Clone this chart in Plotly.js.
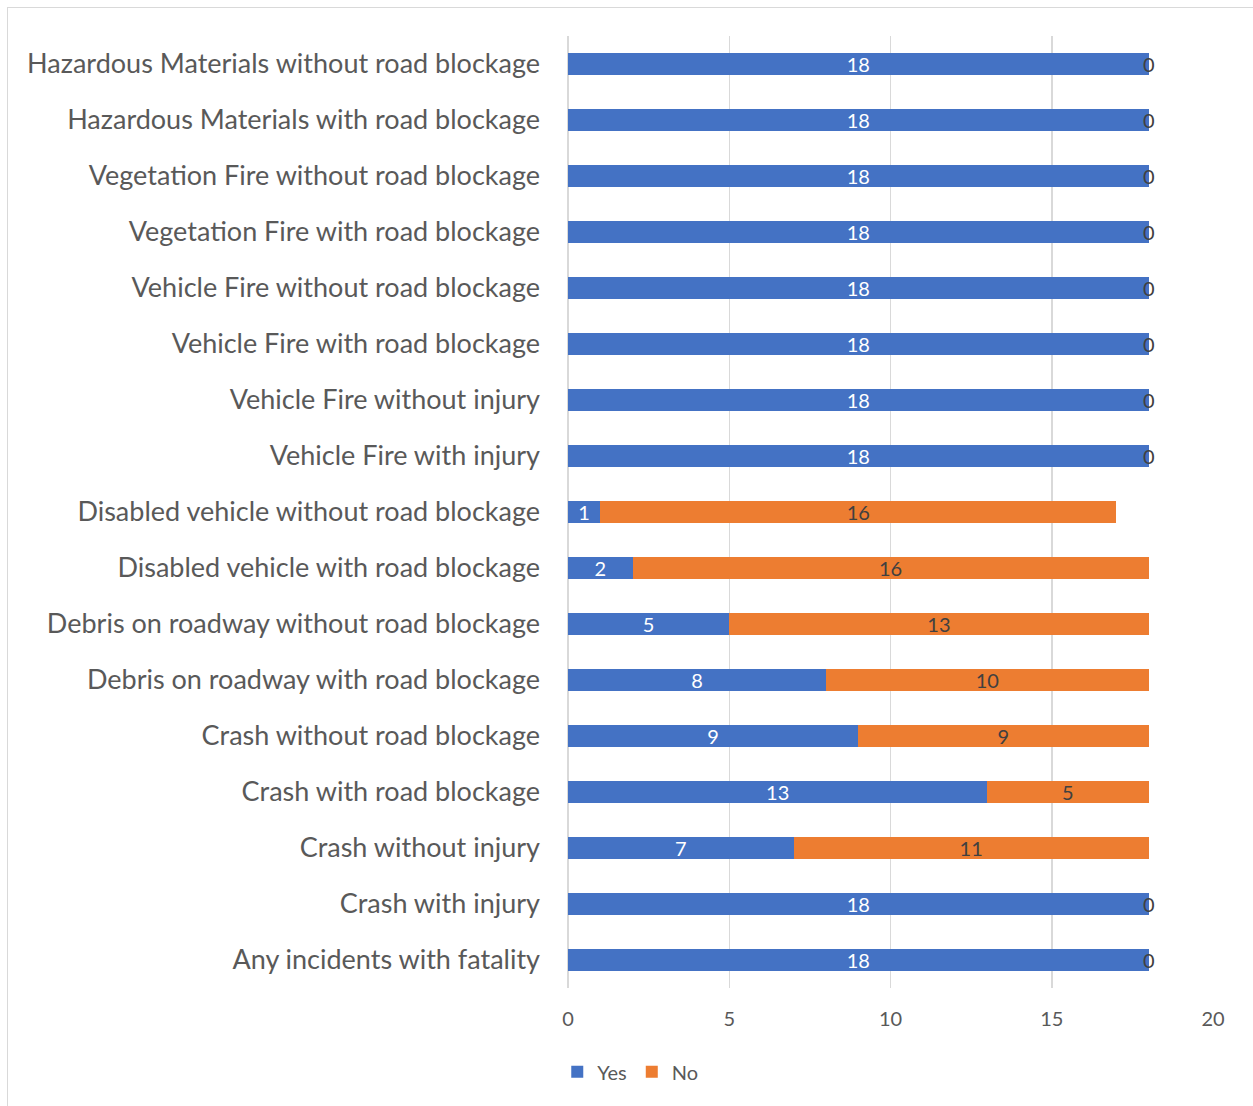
<!DOCTYPE html>
<html><head><meta charset="utf-8">
<script src="https://cdn.plot.ly/plotly-3.0.1.min.js"></script>
<style>
body{margin:0;background:#fff;}
#chart{position:absolute;left:0;top:0;width:1253px;height:1106px;}
#frame{position:absolute;left:7px;top:7px;width:1300px;height:1200px;border:1px solid #d9d9d9;pointer-events:none;}
</style></head>
<body>
<div id="chart"></div>
<div id="frame"></div>
<script>
const categories = [
  "Hazardous Materials without road blockage",
  "Hazardous Materials with road blockage",
  "Vegetation Fire without road blockage",
  "Vegetation Fire with road blockage",
  "Vehicle Fire without road blockage",
  "Vehicle Fire with road blockage",
  "Vehicle Fire without injury",
  "Vehicle Fire with injury",
  "Disabled vehicle without road blockage",
  "Disabled vehicle with road blockage",
  "Debris on roadway without road blockage",
  "Debris on roadway with road blockage",
  "Crash without road blockage",
  "Crash with road blockage",
  "Crash without injury",
  "Crash with injury",
  "Any incidents with fatality"
];
const yesValues = [18,18,18,18,18,18,18,18,1,2,5,8,9,13,7,18,18];
const noValues  = [0,0,0,0,0,0,0,0,16,16,13,10,9,5,11,0,0];
const xTicks = [0,5,10,15,20];

const FONT = "Lato, sans-serif";

const traces = [
  {type:'bar', orientation:'h', name:'Yes', y:categories, x:yesValues,
   marker:{color:'#4472C4'}, text:yesValues.map(String), textposition:'inside', textangle:0,
   constraintext:'none', insidetextanchor:'middle', textfont:{color:'#ffffff', size:20, family:FONT},
   hoverinfo:'x+y'},
  {type:'bar', orientation:'h', name:'No', y:categories, x:noValues,
   marker:{color:'#ED7D31'}, text:noValues.map(v=>v>0?String(v):''), textposition:'inside', textangle:0,
   constraintext:'none', insidetextanchor:'middle', textfont:{color:'#404040', size:20, family:FONT},
   hoverinfo:'x+y'}
];

const annotations = [];
categories.forEach((c,i)=>{
  if(noValues[i]===0){
    annotations.push({x:yesValues[i]+noValues[i], y:c, xref:'x', yref:'y', text:'0',
      showarrow:false, xanchor:'center', yanchor:'middle',
      font:{color:'#404040', size:20, family:FONT}});
  }
});

const layout = {
  width:1253, height:1106,
  margin:{l:568, r:40, t:36, b:118},
  barmode:'stack', bargap:0.6,
  paper_bgcolor:'rgba(0,0,0,0)', plot_bgcolor:'rgba(0,0,0,0)',
  font:{family:FONT, color:'#595959'},
  xaxis:{range:[0,20], tickvals:xTicks, showgrid:true, gridcolor:'#d9d9d9', gridwidth:1.5,
    zeroline:true, zerolinecolor:'#d9d9d9', zerolinewidth:1.5, showline:false, ticks:'',
    tickfont:{size:20, color:'#595959', family:FONT}, ticklabelstandoff:17, fixedrange:true},
  yaxis:{type:'category', autorange:'reversed', showgrid:false, zeroline:false, showline:false,
    ticks:'', tickfont:{size:27, color:'#595959', family:FONT}, ticklabelstandoff:27},
  showlegend:true,
  legend:{orientation:'h', xref:'container', yref:'container', x:0.503, y:0.031,
    xanchor:'center', yanchor:'middle', font:{size:20, color:'#595959', family:FONT},
    itemwidth:30, traceorder:'normal'},
  annotations:annotations
};

Plotly.newPlot('chart', traces, layout, {displayModeBar:false, staticPlot:true});
</script>
</body></html>
